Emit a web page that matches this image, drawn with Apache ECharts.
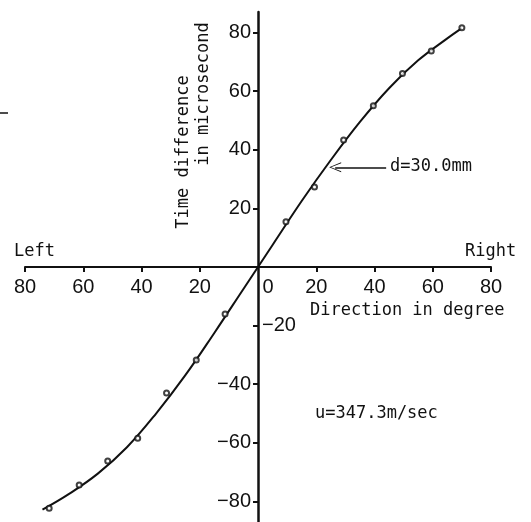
<!DOCTYPE html>
<html lang="en">
<head>
    <meta charset="UTF-8">
    <title>Time difference vs direction</title>
    <script type="text/javascript" src="https://cdn.jsdelivr.net/npm/echarts@6/dist/echarts.min.js"></script>
</head>
<body style="margin:0;background:#fff;">
<div id="main" style="width:531px;height:522px;"></div>
<script type="text/javascript">
    // measured points (degree, microsecond), left side negative
    var pointDeg = [-71.7, -61.4, -51.6, -41.3, -31.4, -21.2, -11.3, 9.6, 19.4, 29.4, 39.6, 49.6, 59.5, 70];
    var pointTime = [-82.3, -74.4, -66.2, -58.4, -43, -31.7, -16, 15.4, 27.3, 43.3, 55, 66, 73.7, 81.6];

    // drawn curve
    var curveDeg = [-74, -65, -55, -45, -35, -25, -15, -5, 0, 5, 15, 25, 35, 45, 55, 65, 70];
    var curveTime = [-82.8, -77.5, -70.5, -61.5, -50, -37, -22.5, -7.5, 0, 7.5, 22.5, 36.5, 49.5, 61, 70.5, 78, 81.5];

    var xTicks = [-80, -60, -40, -20, 0, 20, 40, 60, 80];
    var yTicks = [-80, -60, -40, -20, 20, 40, 60, 80];
    var yLabels = [-80, -60, -40, 20, 40, 60, 80];

    var ink = '#111';
    var mono = '"DejaVu Sans Mono", monospace';
    var sans = '"Liberation Sans", Arial, sans-serif';

    var W = 531, H = 522;
    var gLeft = 25, gRight = 40, gTop = 12, gBottom = 0;
    var yMin = -87, yMax = 87;

    function pairs(xs, ys) {
        var out = [];
        for (var i = 0; i < xs.length; i++) {
            out.push([xs[i], ys[i]]);
        }
        return out;
    }

    function minus(v) {
        return String(v).replace('-', '\u2212');
    }

    // move the axes so they cross at the origin (offset from grid edges)
    var gW = W - gLeft - gRight, gH = H - gTop - gBottom;
    var yAxisOffset = -(gW * (0 - -80) / 160);
    var xAxisOffset = -(gH * (0 - yMin) / (yMax - yMin));

    var myChart = echarts.init(document.getElementById('main'));

    var option = {
        backgroundColor: '#fff',
        animation: false,
        grid: {left: gLeft, right: gRight, top: gTop, bottom: gBottom, containLabel: false, outerBoundsMode: 'none'},
        xAxis: {
            type: 'value', min: -80, max: 80, position: 'bottom', offset: xAxisOffset,
            splitLine: {show: false},
            axisLine: {onZero: false, lineStyle: {color: ink, width: 2}},
            axisTick: {customValues: [-80, -60, -40, -20, 20, 40, 60, 80], length: 5, lineStyle: {color: ink, width: 2}},
            axisLabel: {
                customValues: xTicks, margin: 10, color: ink, fontFamily: sans, fontSize: 20,
                formatter: function (v) {
                    return v === 0 ? '{z|0}' : String(Math.abs(v));
                },
                rich: {z: {padding: [0, 0, 0, 20], fontFamily: sans, fontSize: 20, color: ink}}
            }
        },
        yAxis: {
            type: 'value', min: yMin, max: yMax, position: 'left', offset: yAxisOffset,
            splitLine: {show: false},
            axisLine: {onZero: false, lineStyle: {color: ink, width: 2.5}},
            axisTick: {customValues: yTicks, length: 5, lineStyle: {color: ink, width: 2}},
            axisLabel: {customValues: yLabels, margin: 7, color: ink, fontFamily: sans, fontSize: 20, formatter: minus}
        },
        series: [
            {
                type: 'line', data: pairs(curveDeg, curveTime), smooth: 0.4,
                showSymbol: false, lineStyle: {color: ink, width: 2}, z: 3,
                markPoint: {
                    symbol: 'circle', symbolSize: 0, silent: true,
                    label: {position: 'right', color: ink, fontFamily: sans, fontSize: 20, distance: 4},
                    data: [{coord: [0, -20], value: minus(-20)}]
                },
                markLine: {
                    silent: true, symbol: ['none', 'path://M10,0 L0,20 L2,20 L10,3 L18,20 L20,20 Z'],
                    symbolSize: [10, 12],
                    lineStyle: {color: ink, width: 1.5, type: 'solid'},
                    label: {show: false},
                    data: [[{coord: [44, 34]}, {coord: [26.5, 34]}]]
                }
            },
            {
                type: 'scatter', data: pairs(pointDeg, pointTime), symbol: 'emptyCircle', symbolSize: 5,
                itemStyle: {color: ink, borderColor: ink, borderWidth: 1.5}, z: 4
            }
        ],
        graphic: [
            {type: 'text', left: 14, top: 243, style: {text: 'Left', fill: ink, font: '17px ' + mono}},
            {type: 'text', left: 465, top: 243, style: {text: 'Right', fill: ink, font: '17px ' + mono}},
            {type: 'text', left: 310, top: 302, style: {text: 'Direction in degree', fill: ink, font: '17px ' + mono}},
            {type: 'text', left: 315, top: 405, style: {text: 'u=347.3m/sec', fill: ink, font: '17px ' + mono}},
            {type: 'text', left: 390, top: 158, style: {text: 'd=30.0mm', fill: ink, font: '17px ' + mono}},
            {type: 'text', x: 184, y: 152, rotation: Math.PI / 2,
                style: {text: 'Time difference', fill: ink, font: '17px ' + mono, align: 'center', verticalAlign: 'middle'}},
            {type: 'text', x: 204, y: 94, rotation: Math.PI / 2,
                style: {text: 'in microsecond', fill: ink, font: '17px ' + mono, align: 'center', verticalAlign: 'middle'}},
            {type: 'line', shape: {x1: 0, y1: 113, x2: 8, y2: 113}, style: {stroke: ink, lineWidth: 1.5}}
        ]
    };

    myChart.setOption(option);
</script>
</body>
</html>
